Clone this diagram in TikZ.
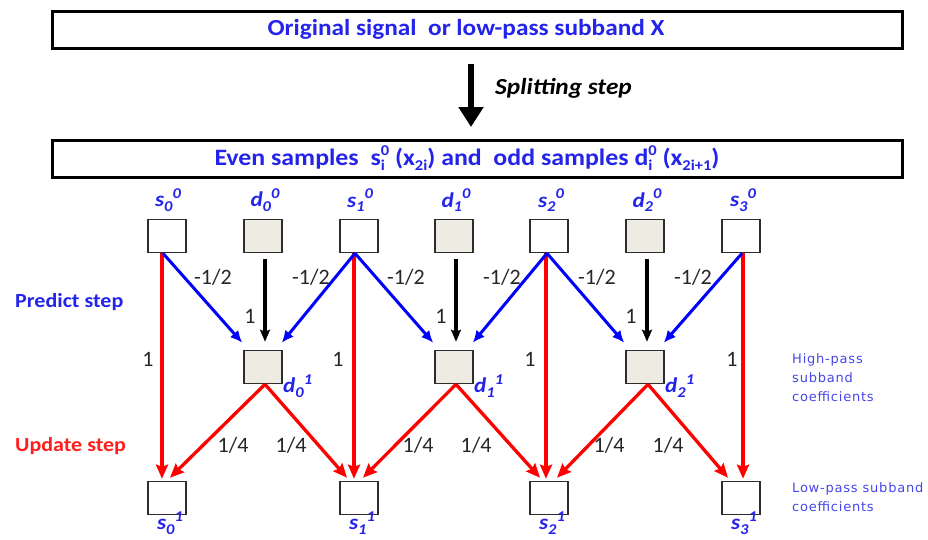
\documentclass[tikz,border=0pt]{standalone}
\usepackage{fontspec}
\setmainfont{Carlito}
\newfontfamily\calstr[FakeStretch=1.1]{Carlito}
\newfontfamily\dvsls[LetterSpace=6]{DejaVu Sans}
\usetikzlibrary{arrows.meta}
\definecolor{tblue}{RGB}{35,35,235}
\definecolor{lblue}{RGB}{70,70,235}
\definecolor{tred}{RGB}{255,30,30}
\definecolor{dfill}{RGB}{238,236,226}
\definecolor{bdr}{RGB}{45,45,45}
\newcommand\Sup[1]{\raisebox{0.42em}{\fontsize{15}{15}\selectfont #1}}
\newcommand\Sub[1]{\raisebox{-0.22em}{\fontsize{15}{15}\selectfont #1}}
\newcommand\SubSup[2]{\rlap{\Sub{#1}}\Sup{#2}}
\newcommand\lab[3]{{\calstr\bfseries\itshape\fontsize{21}{21}\selectfont #1\Sub{#2}\Sup{#3}}}
\tikzset{
  frame/.style={draw=black,line width=3pt,minimum width=850pt,minimum height=37pt,inner sep=0pt},
  ttl/.style={text=tblue,font=\calstr\bfseries\fontsize{23}{23}\selectfont,inner sep=0pt},
  sbox/.style={draw=bdr,line width=1.6pt,fill=white,minimum width=38pt,minimum height=33pt,inner sep=0pt},
  dbox/.style={sbox,fill=dfill},
  nlab/.style={text=tblue,inner sep=0pt},
  num/.style={font=\fontsize{22}{22}\selectfont,text=black!85,inner sep=0pt},
  barr/.style={draw=blue,line width=3pt,-{Latex[length=12pt,width=11pt]}},
  karr/.style={draw=black,line width=3.2pt,-{Stealth[length=12pt,width=10pt,inset=2pt]}},
  rarr/.style={draw=red,line width=3.3pt,-{Stealth[length=14pt,width=12pt,inset=2pt]}},
  side/.style={font=\calstr\bfseries\fontsize{20}{20}\selectfont,inner sep=0pt,anchor=west},
  small/.style={font=\dvsls\fontsize{13}{19}\selectfont,text=lblue,inner sep=0pt,anchor=west,align=left}
}
\begin{document}
\begin{tikzpicture}[x=1pt,y=-1pt]
\useasboundingbox (0,0) rectangle (928,539);
% top frames
\node[frame] (top) at (477,30) {};
\node[ttl] (toptxt) at (466,29) {Original signal~ or low-pass subband X};
\node[frame] (split) at (477,159) {};
\node[ttl,font=\calstr\bfseries\fontsize{23.5}{23.5}\selectfont] (splittxt) at (467,158) {Even samples~ s\SubSup{i}{0} (x\Sub{2i}) and~ odd samples d\SubSup{i}{0} (x\Sub{2i+1})};
\coordinate (sa) at (471,64);
\coordinate (sb) at (471,127);
\draw[line width=6pt,-{Triangle[length=20pt,width=24pt]}] (sa) -- (sb);
\node[inner sep=0pt,anchor=west,font=\calstr\bfseries\itshape\fontsize{23}{23}\selectfont] (spl) at (495,88) {Splitting step};
% top row
\node[sbox] (s00) at (167,236) {};
\node[dbox] (d00) at (263,236) {};
\node[sbox] (s10) at (359,236) {};
\node[dbox] (d10) at (454,236) {};
\node[sbox] (s20) at (549,236) {};
\node[dbox] (d20) at (645,236) {};
\node[sbox] (s30) at (741,236) {};
% middle row
\node[dbox] (d01) at (263,367) {};
\node[dbox] (d11) at (454,367) {};
\node[dbox] (d21) at (645,367) {};
% bottom row
\node[sbox] (s01) at (167,498) {};
\node[sbox] (s11) at (359,498) {};
\node[sbox] (s21) at (549,498) {};
\node[sbox] (s31) at (741,498) {};
% labels top
\node[nlab] (ls00) at (168,200) {\lab{s}{0}{0}};
\node[nlab] (ld00) at (265,200) {\lab{d}{0}{0}};
\node[nlab] (ls10) at (360,200) {\lab{s}{1}{0}};
\node[nlab] (ld10) at (456,200) {\lab{d}{1}{0}};
\node[nlab] (ls20) at (551,200) {\lab{s}{2}{0}};
\node[nlab] (ld20) at (647,200) {\lab{d}{2}{0}};
\node[nlab] (ls30) at (743,200) {\lab{s}{3}{0}};
% labels middle
\node[nlab,anchor=west] (ld01) at (283,386) {\lab{d}{0}{1}};
\node[nlab,anchor=west] (ld11) at (474,386) {\lab{d}{1}{1}};
\node[nlab,anchor=west] (ld21) at (665,386) {\lab{d}{2}{1}};
% labels bottom
\node[nlab] (ls01) at (170,523) {\lab{s}{0}{1}};
\node[nlab] (ls11) at (362,523) {\lab{s}{1}{1}};
\node[nlab] (ls21) at (552,523) {\lab{s}{2}{1}};
\node[nlab] (ls31) at (744,523) {\lab{s}{3}{1}};
% red verticals
\draw[rarr] ([xshift=-5pt]s00.south) -- ([xshift=-5pt,yshift=2pt]s01.north);
\draw[rarr] ([xshift=-5pt]s10.south) -- ([xshift=-5pt,yshift=2pt]s11.north);
\draw[rarr] ([xshift=-3pt]s20.south) -- ([xshift=-3pt,yshift=2pt]s21.north);
\draw[rarr] ([xshift=2pt]s30.south) -- ([xshift=2pt,yshift=2pt]s31.north);
% black arrows
\draw[karr] ([xshift=2pt,yshift=-6pt]d00.south) -- ([xshift=2pt,yshift=8pt]d01.north);
\draw[karr] ([xshift=2pt,yshift=-6pt]d10.south) -- ([xshift=2pt,yshift=8pt]d11.north);
\draw[karr] ([xshift=2pt,yshift=-6pt]d20.south) -- ([xshift=2pt,yshift=8pt]d21.north);
% blue arrows
\draw[barr] ([xshift=-4pt]s00.south) -- ([xshift=-1pt,yshift=7pt]d01.north west);
\draw[barr] ([xshift=-4pt]s10.south) -- ([xshift=-1pt,yshift=7pt]d01.north east);
\draw[barr] ([xshift=-4pt]s10.south) -- ([xshift=-1pt,yshift=7pt]d11.north west);
\draw[barr] ([xshift=-2pt]s20.south) -- ([xshift=-1pt,yshift=7pt]d11.north east);
\draw[barr] ([xshift=-2pt]s20.south) -- ([xshift=-1pt,yshift=7pt]d21.north west);
\draw[barr] ([xshift=1pt]s30.south) -- ([xshift=-1pt,yshift=7pt]d21.north east);
% red diagonals
\draw[rarr] ([xshift=2pt]d01.south) -- ([xshift=3pt,yshift=3pt]s01.north);
\draw[rarr] ([xshift=2pt]d01.south) -- ([xshift=-12pt,yshift=3pt]s11.north);
\draw[rarr] ([xshift=2pt]d11.south) -- ([xshift=4pt,yshift=3pt]s11.north);
\draw[rarr] ([xshift=2pt]d11.south) -- ([xshift=-9pt,yshift=3pt]s21.north);
\draw[rarr] ([xshift=3pt]d21.south) -- ([xshift=8pt,yshift=3pt]s21.north);
\draw[rarr] ([xshift=3pt]d21.south) -- ([xshift=-13pt,yshift=3pt]s31.north);
% numbers
\node[num] (n1) at (213,277) {-1/2};
\node[num] (n2) at (311,277) {-1/2};
\node[num] (n3) at (406,277) {-1/2};
\node[num] (n4) at (502,277) {-1/2};
\node[num] (n5) at (597,277) {-1/2};
\node[num] (n6) at (693,277) {-1/2};
\node[num] (k1) at (250,316) {1};
\node[num] (k2) at (441,316) {1};
\node[num] (k3) at (631,316) {1};
\node[num] (r1) at (148,359) {1};
\node[num] (r2) at (338,359) {1};
\node[num] (r3) at (530,359) {1};
\node[num] (r4) at (732,359) {1};
\node[num] (q1) at (233,445) {1/4};
\node[num] (q2) at (291,445) {1/4};
\node[num] (q3) at (418,445) {1/4};
\node[num] (q4) at (476,445) {1/4};
\node[num] (q5) at (609,445) {1/4};
\node[num] (q6) at (668,445) {1/4};
% side labels
\node[side,text=tblue] (pred) at (15,302) {Predict step};
\node[side,text=tred] (upd) at (15,446) {Update step};
\node[small] (hp) at (792,378) {High-pass\\subband\\coefficients};
\node[small] (lp) at (792,497) {Low-pass subband\\coefficients};
\end{tikzpicture}
\end{document}
